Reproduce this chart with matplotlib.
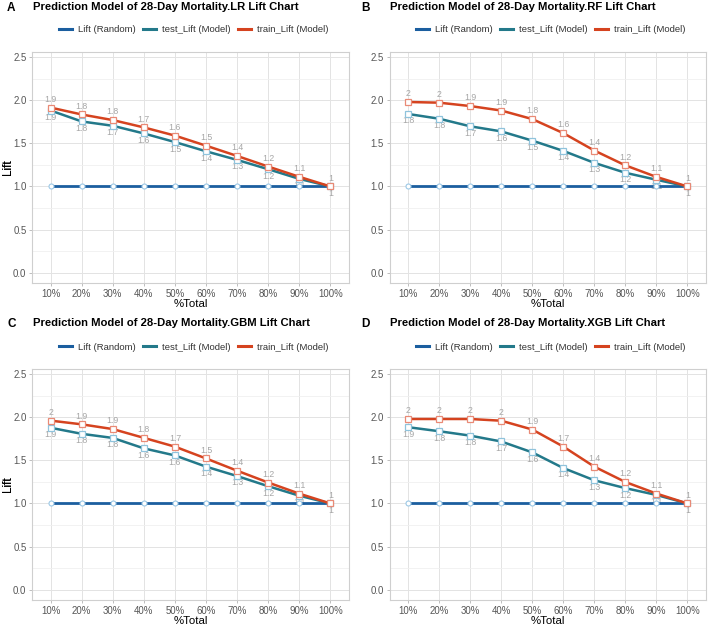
import matplotlib
matplotlib.use("Agg")
import matplotlib.pyplot as plt
from matplotlib.lines import Line2D

plt.rcParams['font.family'] = ['Liberation Sans', 'DejaVu Sans']

# ---------------- data ----------------
pct_labels = ["10%", "20%", "30%", "40%", "50%", "60%", "70%", "80%", "90%", "100%"]
random_lift = [1.0, 1.0, 1.0, 1.0, 1.0, 1.0, 1.0, 1.0, 1.0, 1.0]

lr_train = [1.915, 1.835, 1.77, 1.685, 1.59, 1.473, 1.354, 1.231, 1.112, 1.0]
lr_test = [1.881, 1.754, 1.704, 1.615, 1.515, 1.408, 1.308, 1.200, 1.088, 1.0]

rf_train = [1.980, 1.972, 1.933, 1.881, 1.782, 1.619, 1.417, 1.245, 1.111, 1.0]
rf_test = [1.841, 1.786, 1.698, 1.639, 1.532, 1.413, 1.274, 1.159, 1.078, 1.0]

gbm_train = [1.961, 1.918, 1.863, 1.761, 1.659, 1.522, 1.380, 1.243, 1.114, 1.0]
gbm_test = [1.878, 1.808, 1.76, 1.639, 1.557, 1.427, 1.318, 1.200, 1.090, 1.0]

xgb_train = [1.980, 1.980, 1.980, 1.96, 1.858, 1.660, 1.427, 1.249, 1.115, 1.0]
xgb_test = [1.885, 1.838, 1.787, 1.719, 1.593, 1.411, 1.269, 1.178, 1.099, 1.0]

panel_letters = ["A", "B", "C", "D"]
panel_titles = [
    "Prediction Model of 28-Day Mortality.LR Lift Chart",
    "Prediction Model of 28-Day Mortality.RF Lift Chart",
    "Prediction Model of 28-Day Mortality.GBM Lift Chart",
    "Prediction Model of 28-Day Mortality.XGB Lift Chart",
]
panel_train = [lr_train, rf_train, gbm_train, xgb_train]
panel_test = [lr_test, rf_test, gbm_test, xgb_test]
series_names = ["Lift (Random)", "test_Lift (Model)", "train_Lift (Model)"]

# ---------------- style ----------------
W, H = 708, 627
c_random = "#1b5e9f"
c_test = "#23798a"
c_train = "#d5431f"
mec_random = "#9cc8e6"
mec_test = "#8fc3dc"
mec_train = "#e98a76"
label_col = "#a6a6a6"

fig = plt.figure(figsize=(W / 100, H / 100), dpi=100)
fig.patch.set_facecolor("white")


def px_axes(left, top, right, bottom):
    return fig.add_axes([left / W, 1 - bottom / H, (right - left) / W, (bottom - top) / H])


boxes = [(32, 52, 349, 283), (389.5, 52, 706, 283), (32, 369, 349, 600), (389.5, 369, 706, 600)]
letter_x = [7, 361, 7, 361]
title_y = [7, 7, 323, 323]
legend_y = [30, 30, 347, 347]

x = list(range(1, len(pct_labels) + 1))

for i in range(4):
    l, t, r, b = boxes[i]
    ax = px_axes(l, t, r, b)
    ax.set_xlim(0.4, 10.6)
    ax.set_ylim(-0.12, 2.56)
    ax.set_yticks([0.0, 0.5, 1.0, 1.5, 2.0, 2.5])
    ax.set_yticklabels(["0.0", "0.5", "1.0", "1.5", "2.0", "2.5"])
    ax.set_yticks([0.25, 0.75, 1.25, 1.75, 2.25], minor=True)
    ax.set_xticks(x)
    ax.set_xticklabels(pct_labels)
    ax.grid(True, which="major", color="#e3e3e3", linewidth=0.7)
    ax.grid(True, which="minor", axis="y", color="#f0f0f0", linewidth=0.6)
    ax.set_axisbelow(True)
    for s in ax.spines.values():
        s.set_color("#cfcfcf")
        s.set_linewidth(0.8)
    ax.tick_params(axis="both", which="major", colors="#b3b3b3", labelcolor="#555555",
                   labelsize=6.9, length=2.5, width=0.6, pad=1.5)
    ax.tick_params(axis="both", which="minor", length=0)
    ax.set_ylabel("Lift", fontsize=8.5, color="black")
    ax.yaxis.set_label_coords((14 - l) / (r - l), 0.5)
    ax.set_xlabel("%Total", fontsize=8.2, color="black", va="center")
    ax.xaxis.set_label_coords(0.5, -21.5 / (b - t))

    tr = panel_train[i]
    te = panel_test[i]
    ax.plot(x, random_lift, color=c_random, lw=2.0, marker="o", ms=3.6,
            mfc="white", mec=mec_random, mew=0.8, zorder=3)
    ax.plot(x, te, color=c_test, lw=1.8, marker="s", ms=4.2,
            mfc="white", mec=mec_test, mew=0.9, zorder=4)
    ax.plot(x, tr, color=c_train, lw=1.8, marker="s", ms=4.2,
            mfc="white", mec=mec_train, mew=0.9, zorder=5)
    for xi, v in zip(x, tr):
        ax.annotate(f"{round(v, 1):g}", (xi, v), xytext=(0, 6.0), textcoords="offset points",
                    ha="center", va="center", fontsize=6.3, color=label_col, zorder=6)
    for xi, v in zip(x, te):
        ax.annotate(f"{round(v, 1):g}", (xi, v), xytext=(0, -5.0), textcoords="offset points",
                    ha="center", va="center", fontsize=6.3, color=label_col, zorder=2)

    # titles
    fig.text(letter_x[i] / W, 1 - (title_y[i] + 1) / H, panel_letters[i],
             fontsize=8.5, fontweight="bold", ha="left", va="center")
    fig.text((l + 1) / W, 1 - title_y[i] / H, panel_titles[i],
             fontsize=8.1, fontweight="bold", ha="left", va="center")

    handles = [Line2D([], [], color=c, lw=2.2) for c in (c_random, c_test, c_train)]
    ax.legend(handles, series_names, loc="center", ncol=3, frameon=False,
              bbox_to_anchor=(((l + r) / 2 + 3) / W, 1 - legend_y[i] / H),
              bbox_transform=fig.transFigure, fontsize=6.8, handlelength=1.4,
              handletextpad=0.6, columnspacing=0.8, labelcolor="#333333")

fig.savefig("out.png", dpi=100, facecolor="white")
